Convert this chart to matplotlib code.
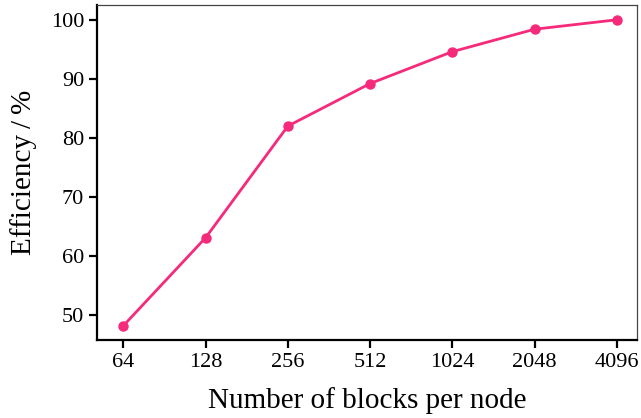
import numpy as np
import matplotlib.pyplot as plt

blocks = [64, 128, 256, 512, 1024, 2048, 4096]
efficiency = [48.2, 63.1, 82.0, 89.2, 94.6, 98.4, 100.0]

plt.rcParams['font.family'] = ['Liberation Serif', 'DejaVu Serif']

fig, ax = plt.subplots(figsize=(6.41, 4.18), dpi=100)
fig.subplots_adjust(left=0.152, right=0.993, top=0.988, bottom=0.187)

ax.plot(blocks, efficiency, '-o', color='#f62a7a', lw=2, ms=6.5)
ax.set_xscale('log', base=2)
ax.set_xticks(blocks)
ax.set_xticklabels([str(b) for b in blocks])
ax.minorticks_off()
ax.set_xlim(64 / 2**0.316, 4096 * 2**0.24)
ax.set_ylim(45.8, 102.5)
ax.set_yticks([50, 60, 70, 80, 90, 100])

for side in ['left', 'bottom']:
    ax.spines[side].set_linewidth(1.6)
for side in ['top', 'right']:
    ax.spines[side].set_linewidth(0.9)
    ax.spines[side].set_color('#444444')
ax.tick_params(width=1.6, length=6, labelsize=16)

ax.set_xlabel('Number of blocks per node', fontsize=21, labelpad=11)
ax.set_ylabel('Efficiency\u2009/\u2009%', fontsize=21, labelpad=10)

fig.savefig('out.png')
